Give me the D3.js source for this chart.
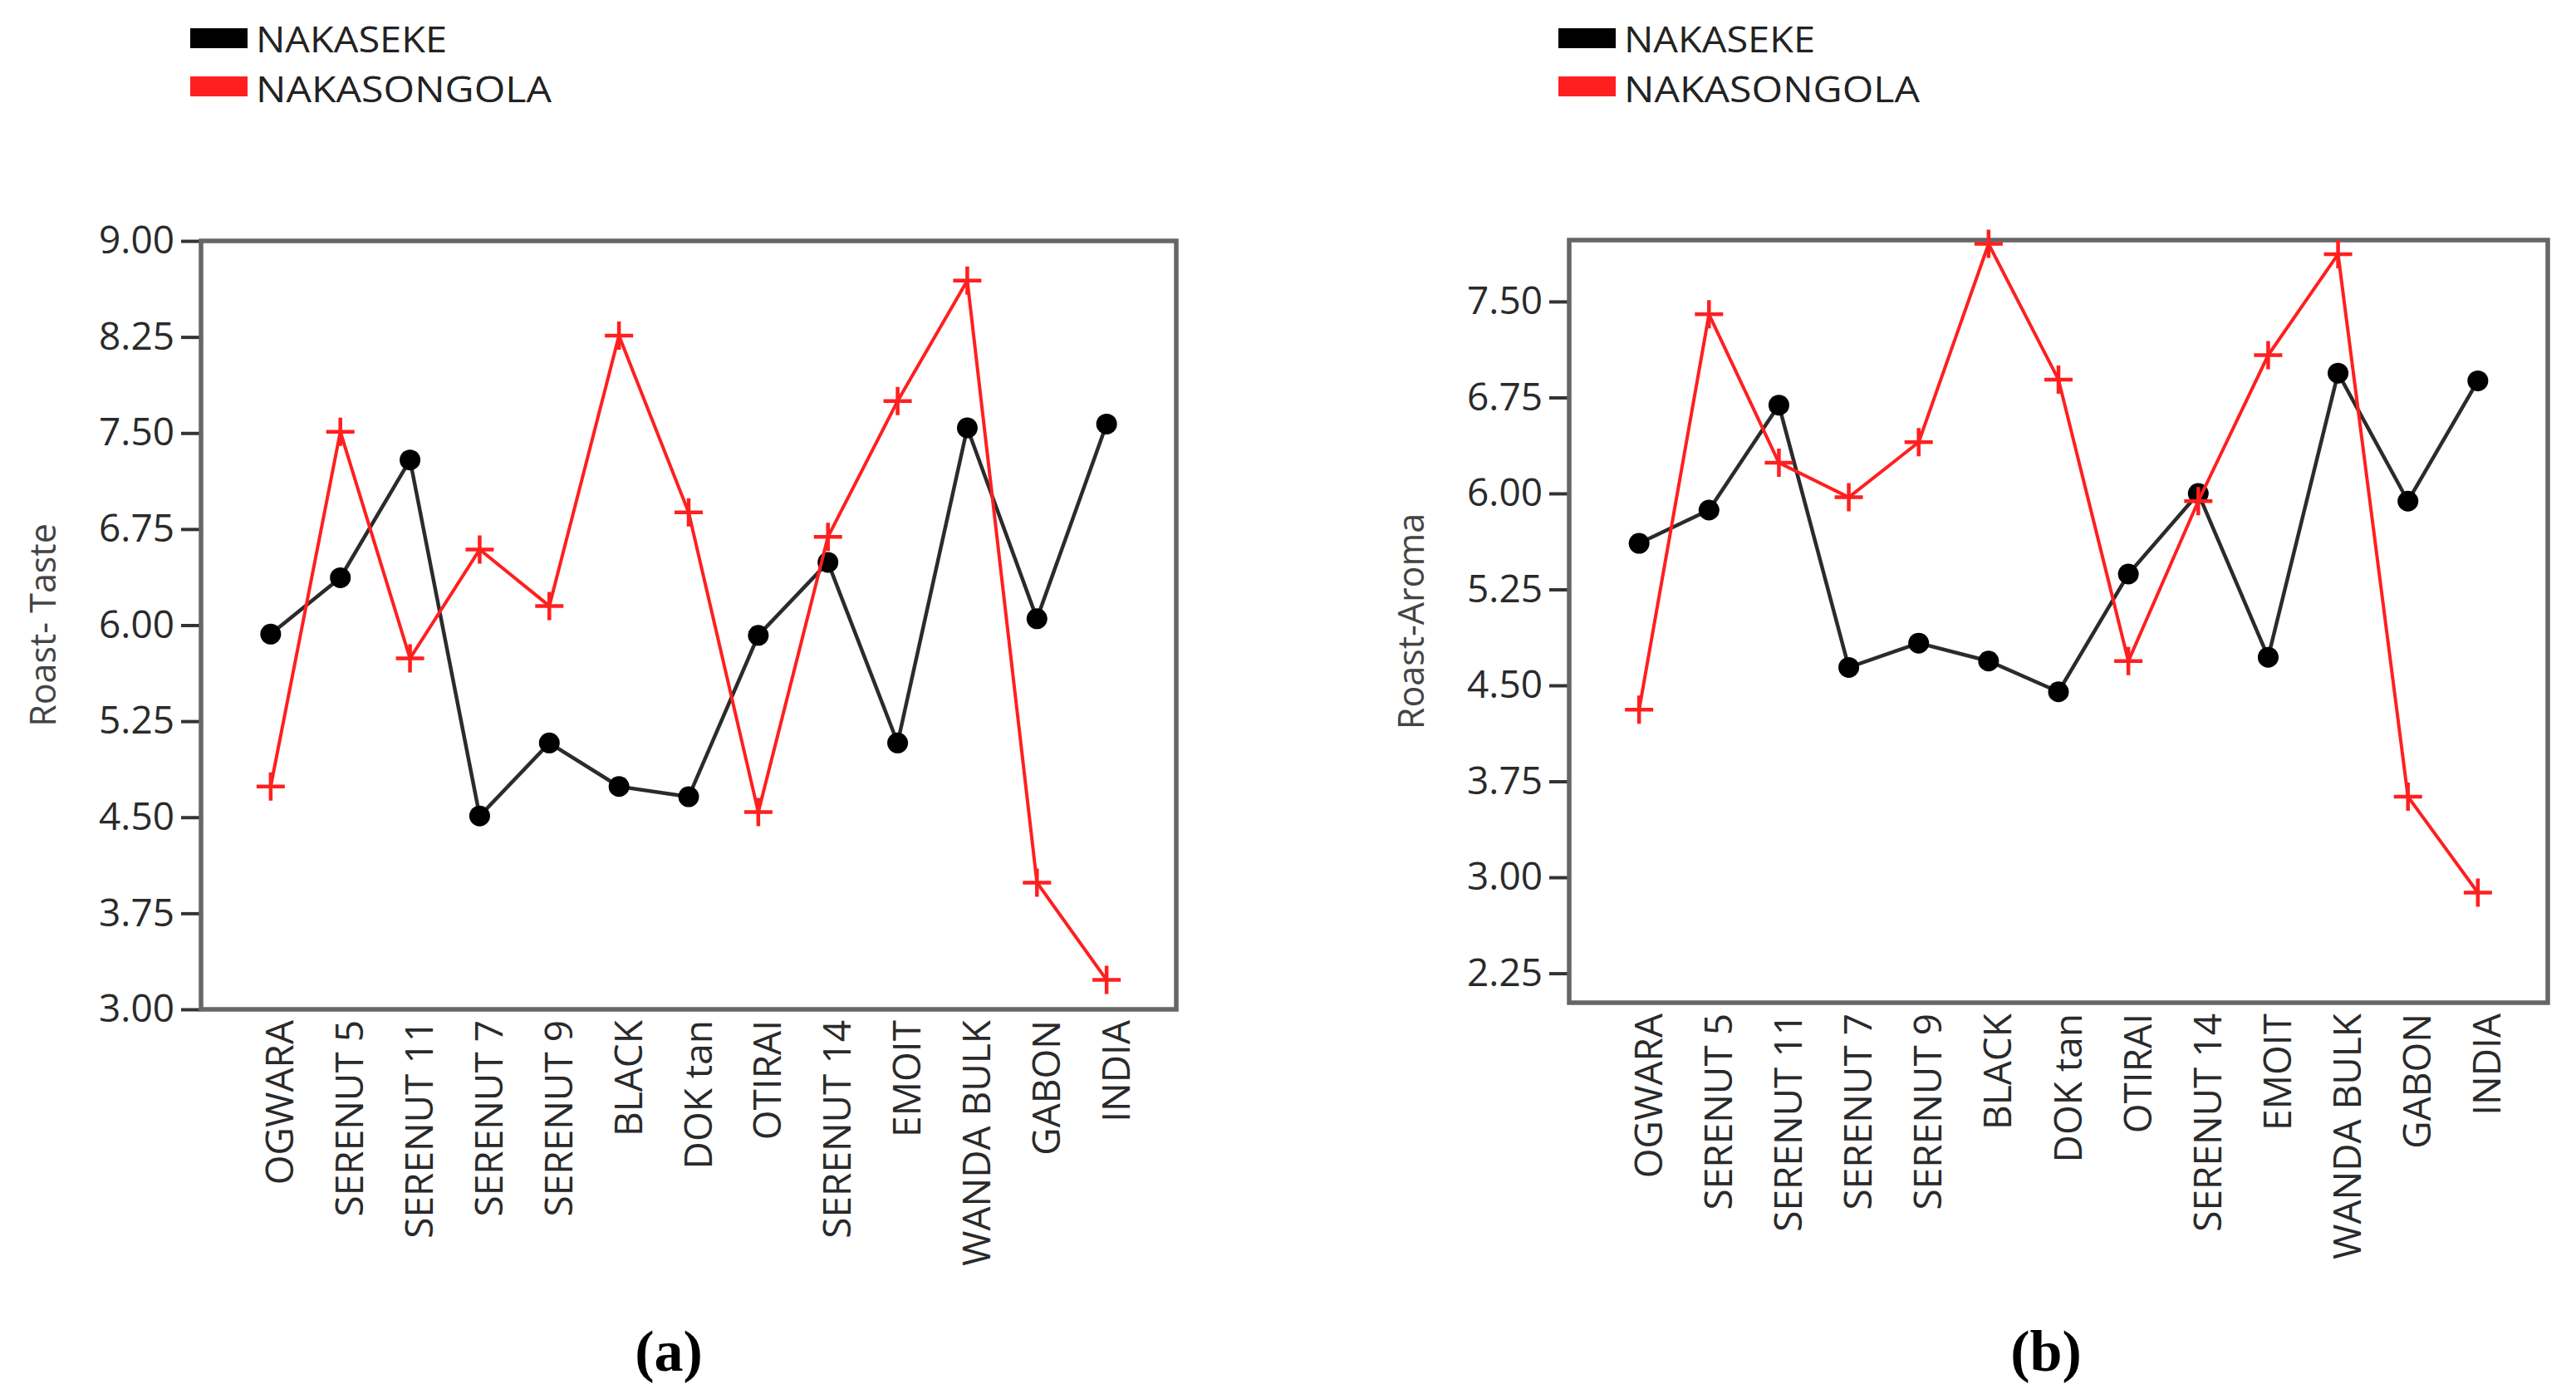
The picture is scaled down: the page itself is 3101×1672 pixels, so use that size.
<!DOCTYPE html>
<html>
<head>
<meta charset="utf-8">
<script src="https://cdn.jsdelivr.net/npm/d3@7"></script>
<style>
  body { margin: 0; background: #fff; }
  text { font-family: "Open Sans", "Noto Sans", sans-serif; }
</style>
</head>
<body>
<div id="chart"></div>
<script>
// data
var categories = ["OGWARA", "SERENUT 5", "SERENUT 11", "SERENUT 7", "SERENUT 9", "BLACK",
  "DOK tan", "OTIRAI", "SERENUT 14", "EMOIT", "WANDA BULK", "GABON", "INDIA"];

var seriesNames = ["NAKASEKE", "NAKASONGOLA"];

var tasteNakaseke    = [5.93, 6.37, 7.29, 4.51, 5.08, 4.74, 4.66, 5.92, 6.49, 5.08, 7.54, 6.05, 7.57];
var tasteNakasongola = [4.74, 7.51, 5.74, 6.59, 6.15, 8.26, 6.88, 4.54, 6.69, 7.75, 8.69, 3.99, 3.23];

var aromaNakaseke    = [5.61, 5.87, 6.69, 4.64, 4.83, 4.69, 4.45, 5.37, 6.00, 4.72, 6.94, 5.94, 6.88];
var aromaNakasongola = [4.31, 7.40, 6.24, 5.97, 6.40, 7.95, 6.89, 4.69, 5.94, 7.08, 7.87, 3.63, 2.88];

var tasteTicks = [3.00, 3.75, 4.50, 5.25, 6.00, 6.75, 7.50, 8.25, 9.00];
var aromaTicks = [2.25, 3.00, 3.75, 4.50, 5.25, 6.00, 6.75, 7.50];

// Env params
const svg_width = 3101;
const svg_height = 1672;
const font_size = 46;
const black = "#000";
const red = "#ff1f1f";

var svg = d3.select("#chart").append("svg")
  .attr("width", svg_width)
  .attr("height", svg_height)
  .style("background", "#fff");

// labels under the axes are cut by the original image border
svg.append("clipPath")
  .attr("id", "crop")
  .append("rect")
  .attr("x", 0).attr("y", 0)
  .attr("width", svg_width).attr("height", 1530);

function draw_panel(p)
{
  var x = d3.scalePoint()
    .domain(categories)
    .range([p.left, p.right])
    .padding(1);

  var y = d3.scaleLinear()
    .domain(p.domain)
    .range([p.bottom, p.top]);

  var g = svg.append("g");

  // legend
  var legend = g.append("g");
  var legendWidths = [230, 356];
  [p.series1, p.series2].forEach(function(s, i) {
    legend.append("rect")
      .attr("x", p.left - 13)
      .attr("y", 34 + i * 58)
      .attr("width", 69)
      .attr("height", 24)
      .attr("fill", i === 0 ? black : red);
    legend.append("text")
      .attr("x", p.left + 66)
      .attr("y", 48 + i * 60)
      .attr("dy", "0.35em")
      .attr("font-size", 44)
      .attr("textLength", legendWidths[i])
      .attr("lengthAdjust", "spacingAndGlyphs")
      .attr("fill", "#222")
      .text(seriesNames[i]);
  });

  // y axis
  var yAxis = g.append("g")
    .attr("transform", "translate(" + p.left + ",0)")
    .call(d3.axisLeft(y).tickValues(p.ticks).tickSize(24).tickPadding(8).tickFormat(d3.format(".2f")));
  yAxis.select(".domain").remove();
  yAxis.selectAll("line").attr("stroke", "#333").attr("stroke-width", 4);
  yAxis.selectAll("text")
    .attr("font-size", font_size)
    .attr("font-family", "'Open Sans', 'Noto Sans', sans-serif")
    .attr("fill", "#2a2a2a");

  // x axis, rotated labels
  var xAxis = g.append("g")
    .attr("clip-path", "url(#crop)")
    .attr("transform", "translate(0," + p.bottom + ")")
    .call(d3.axisBottom(x).tickSize(0));
  xAxis.select(".domain").remove();
  xAxis.selectAll("text")
    .attr("transform", "rotate(-90)")
    .attr("x", -13)
    .attr("y", 11)
    .attr("dy", "0.35em")
    .style("text-anchor", "end")
    .attr("font-size", font_size)
    .attr("font-family", "'Open Sans', 'Noto Sans', sans-serif")
    .attr("fill", "#2a2a2a");

  // frame
  g.append("rect")
    .attr("x", p.left)
    .attr("y", p.top)
    .attr("width", p.right - p.left)
    .attr("height", p.bottom - p.top)
    .attr("fill", "none")
    .attr("stroke", "#666")
    .attr("stroke-width", 5.5);

  // y title
  g.append("text")
    .attr("transform", "translate(" + (p.left - 190) + "," + ((p.top + p.bottom) / 2) + ") rotate(-90)")
    .attr("dy", "0.35em")
    .attr("text-anchor", "middle")
    .attr("font-size", 43)
    .attr("fill", "#444")
    .text(p.title);

  var line = d3.line()
    .x(function(d, i) { return x(categories[i]); })
    .y(function(d) { return y(d); });

  // black series
  g.append("path")
    .datum(p.series1)
    .attr("d", line)
    .attr("fill", "none")
    .attr("stroke", "#2b2b2b")
    .attr("stroke-width", 4.5);

  g.selectAll(".dot")
    .data(p.series1)
    .enter().append("circle")
    .attr("class", "dot")
    .attr("cx", function(d, i) { return x(categories[i]); })
    .attr("cy", function(d) { return y(d); })
    .attr("r", 12.5)
    .attr("fill", black);

  // red series
  g.append("path")
    .datum(p.series2)
    .attr("d", line)
    .attr("fill", "none")
    .attr("stroke", red)
    .attr("stroke-width", 4);

  g.selectAll(".plus")
    .data(p.series2)
    .enter().append("path")
    .attr("class", "plus")
    .attr("transform", function(d, i) { return "translate(" + x(categories[i]) + "," + y(d) + ")"; })
    .attr("d", "M-17,0H17M0,-17V17")
    .attr("stroke", red)
    .attr("stroke-width", 4.5);

  // caption
  g.append("text")
    .attr("x", p.caption_x)
    .attr("y", 1650)
    .attr("text-anchor", "middle")
    .attr("font-size", 70)
    .attr("font-weight", "bold")
    .style("font-family", "'Liberation Serif', 'DejaVu Serif', serif")
    .attr("fill", "#000")
    .text(p.caption);
}

draw_panel({
  left: 242, right: 1416, top: 290, bottom: 1215,
  domain: [3, 9], ticks: tasteTicks,
  series1: tasteNakaseke, series2: tasteNakasongola,
  title: "Roast- Taste", caption: "(a)", caption_x: 805
});

draw_panel({
  left: 1889, right: 3067, top: 289, bottom: 1207,
  domain: [2.02, 7.98], ticks: aromaTicks,
  series1: aromaNakaseke, series2: aromaNakasongola,
  title: "Roast-Aroma", caption: "(b)", caption_x: 2463
});
</script>
</body>
</html>
